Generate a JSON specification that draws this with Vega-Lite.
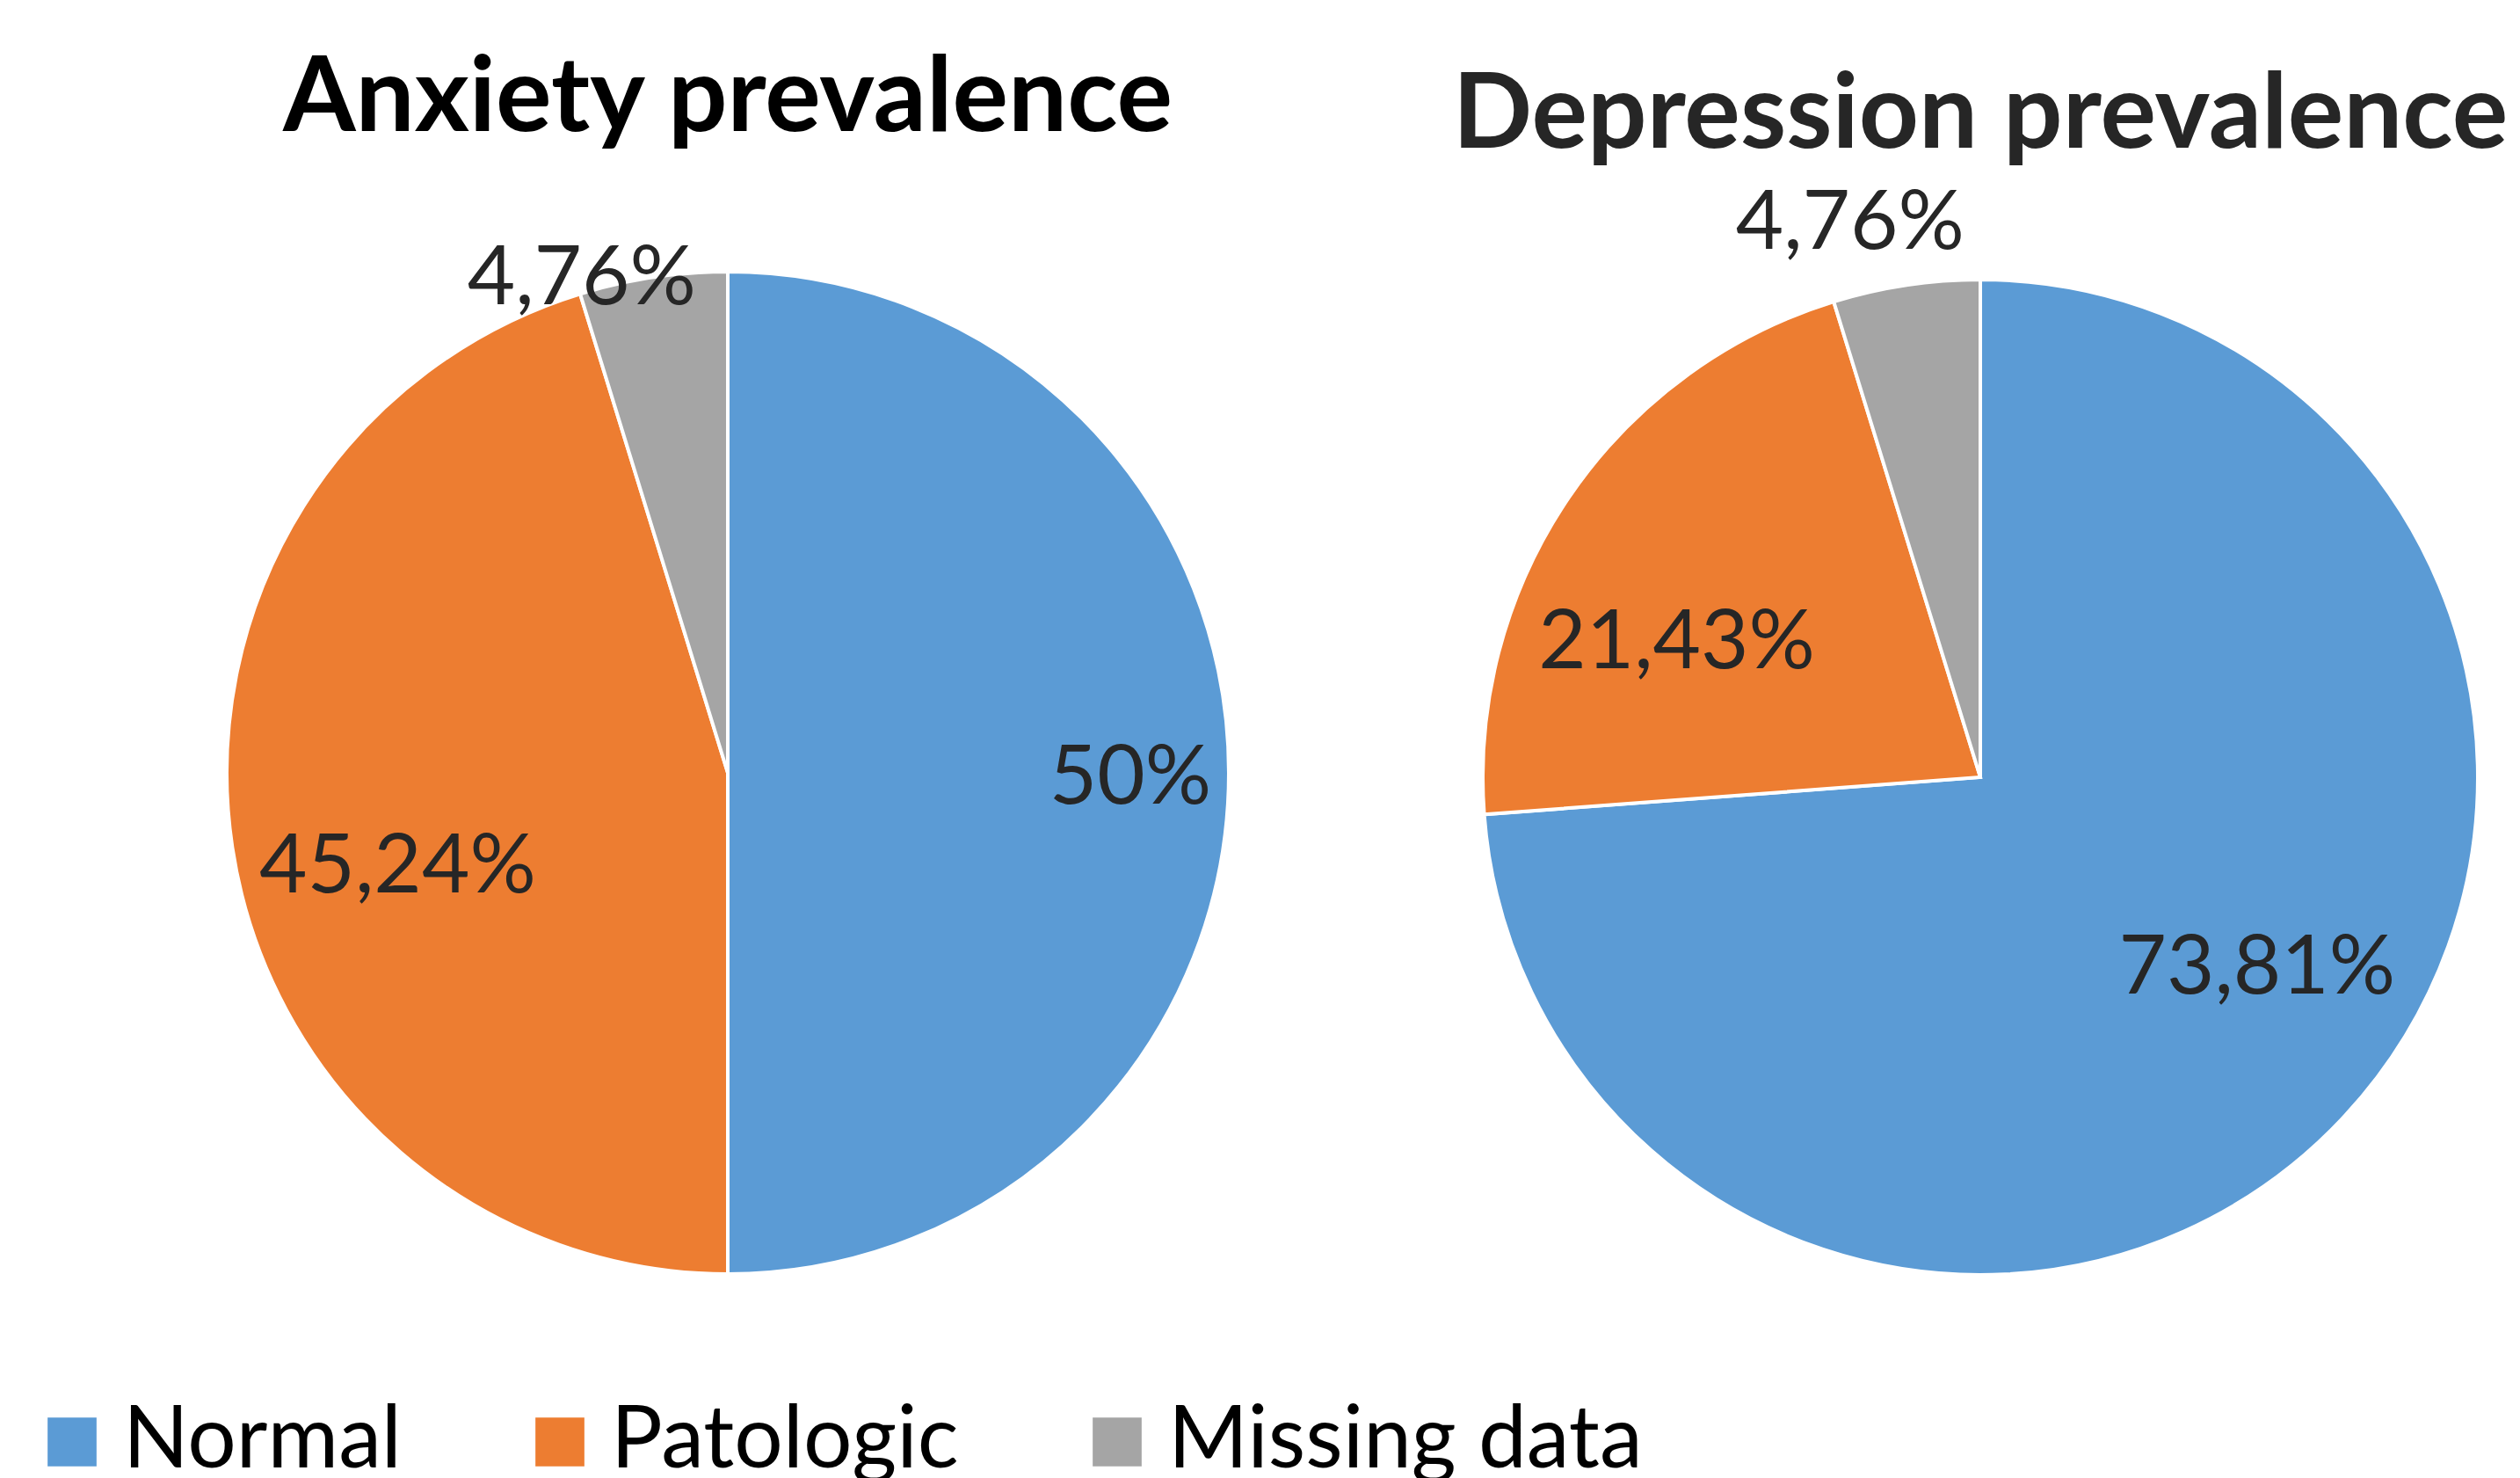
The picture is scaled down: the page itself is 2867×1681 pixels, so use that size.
{
  "$schema": "https://vega.github.io/schema/vega-lite/v6.json",
  "background": "white",
  "padding": {"left": 33, "top": 53, "right": 0, "bottom": 0},
  "spacing": 29,
  "config": {
    "view": {"stroke": null},
    "font": "Lato",
    "title": {"font": "Lato", "fontWeight": "bold", "anchor": "middle", "baseline": "alphabetic", "frame": "group"}
  },
  "datasets": {
    "prev": [
      {"chart": "Anxiety", "Category": "Normal", "idx": 1, "Value": 50, "Label": "50%"},
      {"chart": "Anxiety", "Category": "Patologic", "idx": 2, "Value": 45.24, "Label": "45,24%"},
      {"chart": "Anxiety", "Category": "Missing data", "idx": 3, "Value": 4.76, "Label": "4,76%"},
      {"chart": "Depression", "Category": "Normal", "idx": 1, "Value": 73.81, "Label": "73,81%"},
      {"chart": "Depression", "Category": "Patologic", "idx": 2, "Value": 21.43, "Label": "21,43%"},
      {"chart": "Depression", "Category": "Missing data", "idx": 3, "Value": 4.76, "Label": "4,76%"}
    ]
  },
  "hconcat": [
    {
      "title": {"text": "Anxiety prevalence", "fontSize": 119, "color": "#000000", "offset": 97},
      "width": 1590, "height": 1140,
      "data": {"name": "prev"},
      "transform": [{"filter": "datum.chart === 'Anxiety'"}],
      "encoding": {
        "theta": {"field": "Value", "type": "quantitative", "stack": true},
        "order": {"field": "idx", "type": "quantitative"},
        "detail": {"field": "Category", "type": "nominal"}
      },
      "layer": [
        {
          "mark": {"type": "arc", "outerRadius": 570, "stroke": "white", "strokeWidth": 4},
          "encoding": {
            "color": {"field": "Category", "type": "nominal",
              "scale": {"domain": ["Normal", "Patologic", "Missing data"], "range": ["#5B9BD5", "#ED7D31", "#A5A5A5"]},
              "legend": {
                "title": null, "orient": "none", "legendX": 0, "legendY": 1282, "direction": "horizontal",
                "symbolType": "square", "symbolSize": 3100, "symbolStrokeWidth": 0, "symbolOpacity": 1,
                "labelFont": "Lato", "labelFontSize": 98, "labelColor": "#000000", "labelLimit": 0,
                "columnPadding": 131, "labelOffset": 9, "padding": 0
              }}
          }
        },
        {
          "mark": {"type": "text", "radius": 458, "dy": 7, "fontSize": 94, "font": "Lato", "fill": "#262626", "align": "center", "baseline": "middle"},
          "encoding": {"text": {"condition": {"test": "datum.Category === 'Normal'", "field": "Label"}, "value": ""}}
        },
        {
          "mark": {"type": "text", "radius": 391, "dx": 11, "dy": 50, "fontSize": 94, "font": "Lato", "fill": "#262626", "align": "center", "baseline": "middle"},
          "encoding": {"text": {"condition": {"test": "datum.Category === 'Patologic'", "field": "Label"}, "value": ""}}
        },
        {
          "mark": {"type": "text", "radius": 585, "dx": -79, "dy": 17, "fontSize": 94, "font": "Lato", "fill": "#262626", "align": "center", "baseline": "middle"},
          "encoding": {"text": {"condition": {"test": "datum.Category === 'Missing data'", "field": "Label"}, "value": ""}}
        }
      ]
    },
    {
      "title": {"text": "Depression prevalence", "fontSize": 119, "color": "#262626", "offset": 15},
      "width": 1200, "height": 1150,
      "data": {"name": "prev"},
      "transform": [{"filter": "datum.chart === 'Depression'"}],
      "encoding": {
        "theta": {"field": "Value", "type": "quantitative", "stack": true},
        "order": {"field": "idx", "type": "quantitative"},
        "detail": {"field": "Category", "type": "nominal"}
      },
      "layer": [
        {
          "mark": {"type": "arc", "outerRadius": 566, "stroke": "white", "strokeWidth": 4},
          "encoding": {
            "color": {"field": "Category", "type": "nominal",
              "scale": {"domain": ["Normal", "Patologic", "Missing data"], "range": ["#5B9BD5", "#ED7D31", "#A5A5A5"]}}
          }
        },
        {
          "mark": {"type": "text", "radius": 383, "dx": 34, "dy": -43, "fontSize": 94, "font": "Lato", "fill": "#262626", "align": "center", "baseline": "middle"},
          "encoding": {"text": {"condition": {"test": "datum.Category === 'Normal'", "field": "Label"}, "value": ""}}
        },
        {
          "mark": {"type": "text", "radius": 377, "dx": -34, "dy": 60, "fontSize": 94, "font": "Lato", "fill": "#262626", "align": "center", "baseline": "middle"},
          "encoding": {"text": {"condition": {"test": "datum.Category === 'Patologic'", "field": "Label"}, "value": ""}}
        },
        {
          "mark": {"type": "text", "radius": 646, "dx": -52, "dy": 10, "fontSize": 94, "font": "Lato", "fill": "#262626", "align": "center", "baseline": "middle"},
          "encoding": {"text": {"condition": {"test": "datum.Category === 'Missing data'", "field": "Label"}, "value": ""}}
        }
      ]
    }
  ]
}
